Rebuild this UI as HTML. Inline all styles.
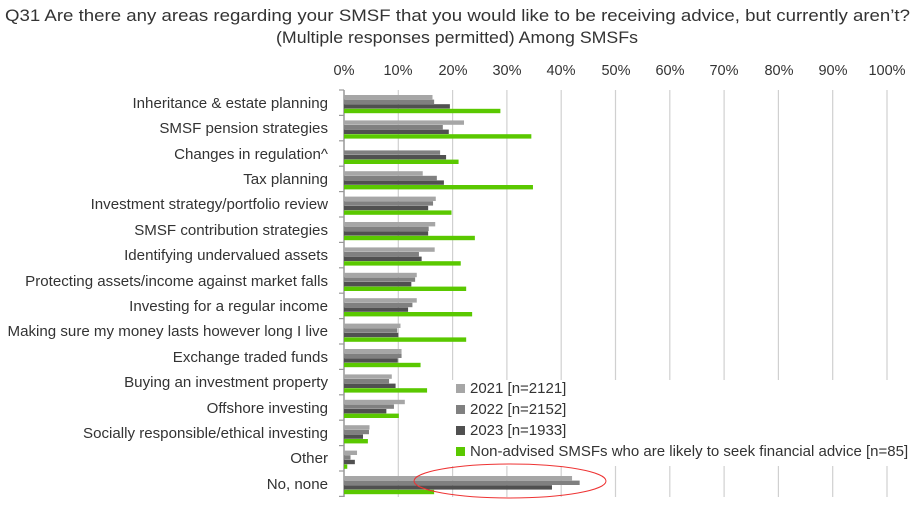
<!DOCTYPE html>
<html><head><meta charset="utf-8"><style>
body{margin:0;background:#fff;}
svg{font-family:"Liberation Sans",Arial,sans-serif;}
</style></head><body>
<svg id="s" width="917" height="507" xmlns="http://www.w3.org/2000/svg">
<text x="5" y="21" font-size="17" fill="#333" textLength="905" lengthAdjust="spacingAndGlyphs">Q31 Are there any areas regarding your SMSF that you would like to be receiving advice, but currently aren’t?</text>
<text x="276" y="43" font-size="17" fill="#333" textLength="362" lengthAdjust="spacingAndGlyphs">(Multiple responses permitted) Among SMSFs</text>
<g font-size="14.5" fill="#333" text-anchor="middle">
<text x="344" y="75">0%</text><text x="398" y="75">10%</text><text x="453" y="75">20%</text><text x="507" y="75">30%</text><text x="561" y="75">40%</text><text x="616" y="75">50%</text><text x="670" y="75">60%</text><text x="724" y="75">70%</text><text x="779" y="75">80%</text><text x="833" y="75">90%</text><text x="887" y="75">100%</text>
</g>
<g id="grid"></g>
<g id="bars"></g>
<g font-size="15.1" fill="#333" text-anchor="end">
<text x="328" y="108">Inheritance &amp; estate planning</text>
<text x="328" y="133">SMSF pension strategies</text>
<text x="328" y="159">Changes in regulation^</text>
<text x="328" y="184">Tax planning</text>
<text x="328" y="209">Investment strategy/portfolio review</text>
<text x="328" y="235">SMSF contribution strategies</text>
<text x="328" y="260">Identifying undervalued assets</text>
<text x="328" y="286">Protecting assets/income against market falls</text>
<text x="328" y="311">Investing for a regular income</text>
<text x="328" y="336">Making sure my money lasts however long I live</text>
<text x="328" y="362">Exchange traded funds</text>
<text x="328" y="387">Buying an investment property</text>
<text x="328" y="413">Offshore investing</text>
<text x="328" y="438">Socially responsible/ethical investing</text>
<text x="328" y="463">Other</text>
<text x="328" y="489">No, none</text>
</g>
<rect x="452" y="380" width="460" height="86" fill="#fff"/>
<g font-size="15" fill="#333">
<rect x="456" y="384" width="9" height="9" fill="#a6a6a6"/><text x="470" y="393">2021 [n=2121]</text>
<rect x="456" y="405" width="9" height="9" fill="#808080"/><text x="470" y="414">2022 [n=2152]</text>
<rect x="456" y="426" width="9" height="9" fill="#505050"/><text x="470" y="435">2023 [n=1933]</text>
<rect x="456" y="447" width="9" height="9" fill="#5ac800"/><text x="470" y="456">Non-advised SMSFs who are likely to seek financial advice [n=85]</text>
</g>
<ellipse cx="510" cy="481" rx="96" ry="17" fill="none" stroke="#e33" stroke-width="1"/>
</svg>
<script>
var d=[[16.3,16.6,19.5,28.8],[22.1,18.2,19.3,34.5],[0,17.7,18.8,21.1],[14.5,17.1,18.4,34.8],[16.9,16.4,15.5,19.8],[16.8,15.6,15.5,24.1],[16.7,13.8,14.3,21.5],[13.4,13.1,12.4,22.5],[13.4,12.6,11.8,23.6],[10.4,9.8,10.0,22.5],[10.6,10.6,9.9,14.1],[8.8,8.3,9.5,15.3],[11.2,9.2,7.8,10.1],[4.7,4.6,3.5,4.4],[2.4,1.2,2.0,0.6],[42,43.4,38.3,16.6]];
var c=["#a6a6a6","#808080","#505050","#5ac800"],ns="http://www.w3.org/2000/svg";
function el(t,a,p){var e=document.createElementNS(ns,t);for(var k in a)e.setAttribute(k,a[k]);document.getElementById(p).appendChild(e);}
for(var i=1;i<=10;i++){var x=344+i*54.3;el("line",{x1:x,x2:x,y1:90,y2:497,stroke:"#d0d0d0","stroke-width":1.2},"grid");}
el("line",{x1:344,x2:344,y1:90,y2:497,stroke:"#999","stroke-width":1.5},"grid");
for(var i=0;i<=16;i++){var y=90+i*25.4;el("line",{x1:339,x2:344,y1:y,y2:y,stroke:"#999","stroke-width":1.2},"grid");}
d.forEach(function(r,i){var b=90+i*25.4;r.forEach(function(v,j){if(v>0)el("rect",{x:344,y:b+5+j*4.6,width:v*5.43,height:4.4,fill:c[j]},"bars");});});
</script>
</body></html>
